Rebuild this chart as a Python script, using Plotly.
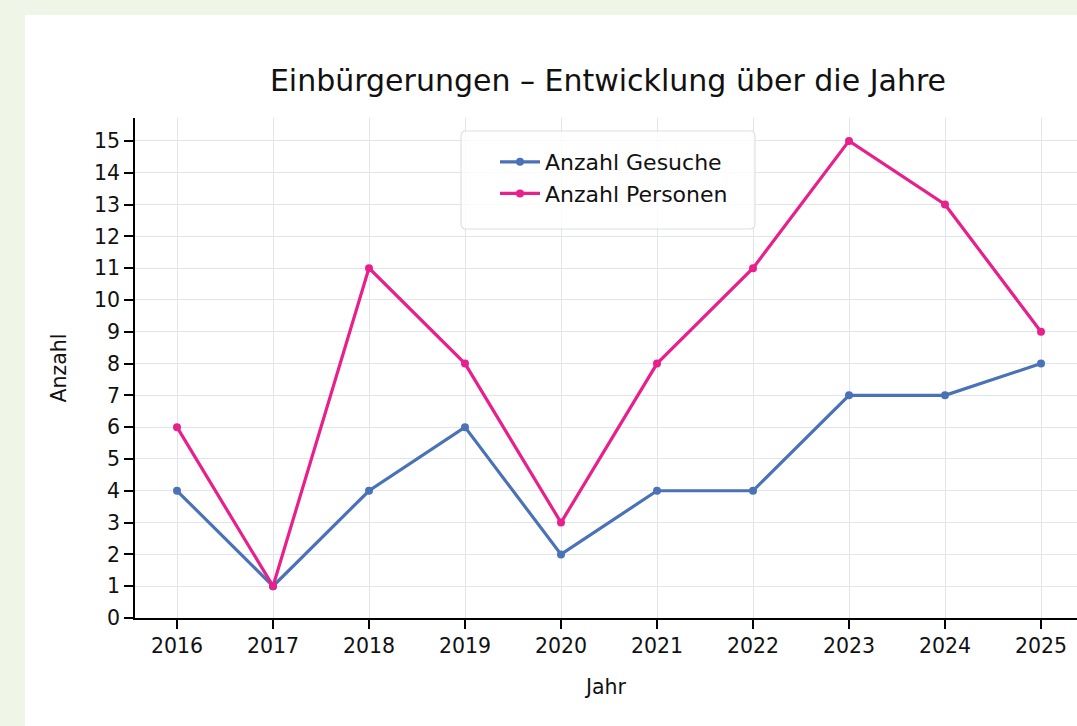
import plotly.graph_objects as go

years = [2016, 2017, 2018, 2019, 2020, 2021, 2022, 2023, 2024, 2025]
gesuche = [4, 1, 4, 6, 2, 4, 4, 7, 7, 8]
personen = [6, 1, 11, 8, 3, 8, 11, 15, 13, 9]
y_ticks = list(range(0, 16))

W, H = 1077, 726
ML, MR, MT, MB = 135, 0, 118, 108
PW, PH = W - ML - MR, H - MT - MB

BLUE = "#4a72b6"
PINK = "#e8208c"
FONT = "DejaVu Sans"

fig = go.Figure()
fig.add_trace(go.Scatter(x=years, y=gesuche, mode="lines+markers", name="Anzahl Gesuche",
                         line=dict(color=BLUE, width=3.2), marker=dict(size=8, color=BLUE)))
fig.add_trace(go.Scatter(x=years, y=personen, mode="lines+markers", name="Anzahl Personen",
                         line=dict(color=PINK, width=3.2), marker=dict(size=8, color=PINK)))

def px_x(p):
    return (p - ML) / PW

def px_y(p):
    return (H - MB - p) / PH

# white card on green page
fig.add_shape(type="rect", xref="paper", yref="paper",
              x0=px_x(25), x1=px_x(W + 5), y0=px_y(H + 5), y1=px_y(15),
              fillcolor="white", line=dict(width=0), layer="below")

# legend frame (rounded)
lx0, lx1, ly0, ly1, r = px_x(461), px_x(755), px_y(229), px_y(131), 5
rx, ry = r / PW, r / PH
path = (f"M {lx0+rx},{ly1} L {lx1-rx},{ly1} Q {lx1},{ly1} {lx1},{ly1-ry} "
        f"L {lx1},{ly0+ry} Q {lx1},{ly0} {lx1-rx},{ly0} L {lx0+rx},{ly0} "
        f"Q {lx0},{ly0} {lx0},{ly0+ry} L {lx0},{ly1-ry} Q {lx0},{ly1} {lx0+rx},{ly1} Z")
fig.add_shape(type="path", xref="paper", yref="paper", path=path,
              fillcolor="rgba(255,255,255,0.8)", line=dict(color="#dcdfe3", width=1.2),
              layer="above")

fig.update_layout(
    width=W, height=H,
    margin=dict(l=ML, r=MR, t=MT, b=MB, pad=0),
    paper_bgcolor="#eff5e7",
    plot_bgcolor="white",
    font=dict(family=FONT, size=20.5, color="#111111"),
    title=dict(text="Einbürgerungen – Entwicklung über die Jahre", xref="container",
               x=608 / W, xanchor="center",
               y=1 - 80 / H, yanchor="middle", font=dict(size=30, color="#111111")),
    showlegend=True,
    legend=dict(x=px_x(495), y=px_y(141), xanchor="left", yanchor="top",
                bgcolor="rgba(0,0,0,0)", borderwidth=0,
                font=dict(size=22), tracegroupgap=0, itemwidth=40),
)
fig.update_xaxes(range=[2015.5625, 2015.5625 + PW / 96.0], tickmode="array", tickvals=years,
                 ticktext=[str(y) for y in years],
                 showgrid=True, gridcolor="#e1e4ea", gridwidth=1.4,
                 showline=True, linecolor="black", linewidth=1.6,
                 ticks="outside", ticklen=9, tickwidth=1.6, tickcolor="black",
                 zeroline=False,
                 title=dict(text="Jahr", font=dict(size=20.5), standoff=22))
fig.update_yaxes(range=[0, 15.72], tickmode="array", tickvals=y_ticks,
                 showgrid=True, gridcolor="#e1e4ea", gridwidth=1.4,
                 showline=True, linecolor="black", linewidth=1.6,
                 ticks="outside", ticklen=9, tickwidth=1.6, tickcolor="black",
                 zeroline=False,
                 title=dict(text="Anzahl", font=dict(size=20.5), standoff=22))

fig.write_html("out.html", config={"displayModeBar": False},
               post_script="document.body.style.margin='0';")
